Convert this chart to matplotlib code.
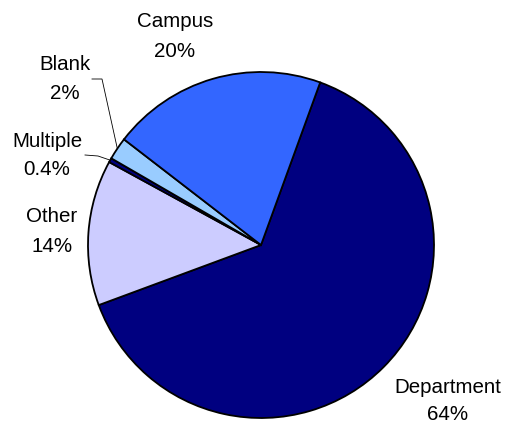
import numpy as np
import matplotlib
matplotlib.use("Agg")
import matplotlib.pyplot as plt

categories = ["Department", "Other", "Multiple", "Blank", "Campus"]
values = [63.8, 13.6, 0.4, 2.1, 20.1]
pct_labels = ["64%", "14%", "0.4%", "2%", "20%"]
colors = ["#000080", "#CCCCFF", "#000080", "#99CCFF", "#3366FF"]

W, H = 508, 424
fig = plt.figure(figsize=(W / 100, H / 100), dpi=100)
ax = fig.add_axes([0, 0, 1, 1])

cx, cy, R = 261, H - 245, 173
wedges, _ = ax.pie(values, colors=colors, startangle=70, counterclock=False,
                   center=(cx, cy), radius=R, frame=True,
                   wedgeprops=dict(edgecolor="black", linewidth=1.3))
ax.set_xlim(0, W)
ax.set_ylim(0, H)
ax.set_aspect("equal")
ax.axis("off")

font = dict(family=["Liberation Sans", "DejaVu Sans"], fontsize=14.8, color="black",
            ha="center", va="baseline")

# label layout: centre x, baseline of first line, baseline of second line (px from top)
label_pos = {
    "Campus": (175, 27, 57),
    "Blank": (65, 70, 99),
    "Multiple": (47, 147, 175),
    "Other": (52, 222, 252),
    "Department": (448, 393, 420),
}
leaders = {"Blank": ((92, 79), (102, 79)), "Multiple": ((85, 155), (98, 156))}

for w, cat, pl in zip(wedges, categories, pct_labels):
    x, y1, y2 = label_pos[cat]
    ax.text(x, H - y1, cat, **font)
    ax.text(x, H - y2, pl, **font)
    if cat in leaders:
        (x0, y0), (x1, yy1) = leaders[cat]
        mid = np.deg2rad((w.theta1 + w.theta2) / 2)
        ex, ey = cx + R * np.cos(mid), cy + R * np.sin(mid)
        ax.plot([x0, x1, ex], [H - y0, H - yy1, ey], color="black", lw=0.6)

fig.savefig("out.png", dpi=100)
